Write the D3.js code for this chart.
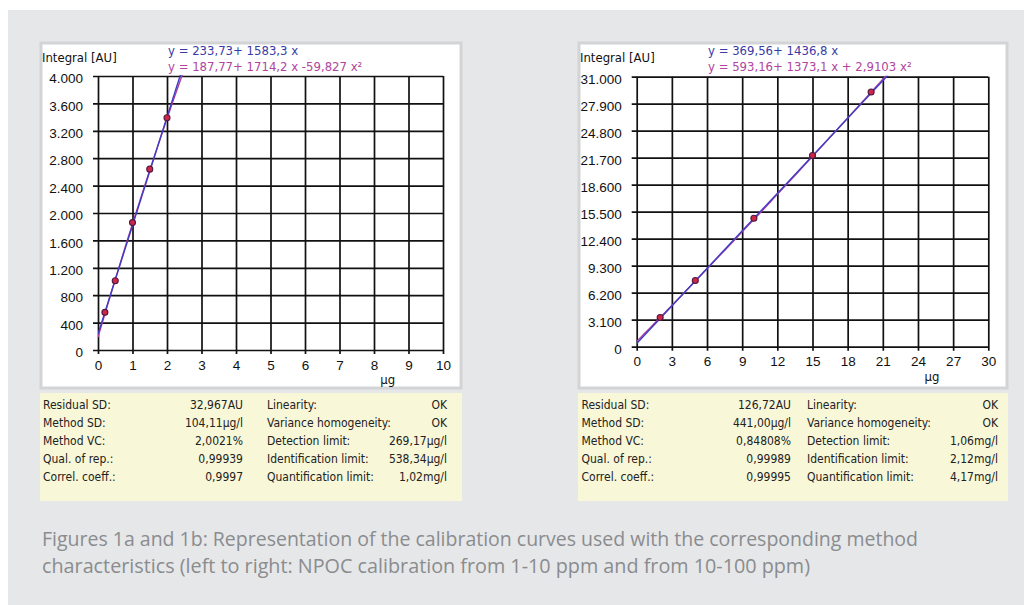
<!DOCTYPE html>
<html>
<head>
<meta charset="utf-8">
<script src="https://cdn.jsdelivr.net/npm/d3@7"></script>
<style>
    body { margin: 0; background: #fff; }
    svg { display: block; }
    .chartText { font-family: "DejaVu Sans Condensed", "Noto Sans", sans-serif; }
</style>
</head>
<body>
<svg id="page" width="1024" height="605"></svg>
<script>
// left chart (1-10 ppm)
leftAmounts = [0.2, 0.5, 1, 1.5, 2]
leftIntegrals = [550, 1010, 1860, 2640, 3390]
leftLinearCoef = [233.73, 1583.3]
leftQuadCoef = [187.77, 1714.2, -59.827]
leftXTicks = [0, 1, 2, 3, 4, 5, 6, 7, 8, 9, 10]
leftYTicks = [0, 400, 800, 1200, 1600, 2000, 2400, 2800, 3200, 3600, 4000]
leftEquations = ["y = 233,73+ 1583,3 x", "y = 187,77+ 1714,2 x -59,827 x²"]
leftStatNames = ["Residual SD:", "Method SD:", "Method VC:", "Qual. of rep.:", "Correl. coeff.:"]
leftStatValues = ["32,967AU", "104,11µg/l", "2,0021%", "0,99939", "0,9997"]
leftCheckNames = ["Linearity:", "Variance homogeneity:", "Detection limit:", "Identification limit:", "Quantification limit:"]
leftCheckValues = ["OK", "OK", "269,17µg/l", "538,34µg/l", "1,02mg/l"]

// right chart (10-100 ppm)
rightAmounts = [2, 5, 10, 15, 20]
rightIntegrals = [3350, 7600, 14750, 21950, 29250]
rightLinearCoef = [369.56, 1436.8]
rightQuadCoef = [593.16, 1373.1, 2.9103]
rightXTicks = [0, 3, 6, 9, 12, 15, 18, 21, 24, 27, 30]
rightYTicks = [0, 3100, 6200, 9300, 12400, 15500, 18600, 21700, 24800, 27900, 31000]
rightEquations = ["y = 369,56+ 1436,8 x", "y = 593,16+ 1373,1 x + 2,9103 x²"]
rightStatNames = ["Residual SD:", "Method SD:", "Method VC:", "Qual. of rep.:", "Correl. coeff.:"]
rightStatValues = ["126,72AU", "441,00µg/l", "0,84808%", "0,99989", "0,99995"]
rightCheckNames = ["Linearity:", "Variance homogeneity:", "Detection limit:", "Identification limit:", "Quantification limit:"]
rightCheckValues = ["OK", "OK", "1,06mg/l", "2,12mg/l", "4,17mg/l"]

captionLines = [
    "Figures 1a and 1b: Representation of the calibration curves used with the corresponding method",
    "characteristics (left to right: NPOC calibration from 1-10 ppm and from 10-100 ppm)"
]

const germanFormat = d3.formatLocale({ decimal: ",", thousands: ".", grouping: [3], currency: ["", ""] }).format(",d")

const svg = d3.select("#page")

// grey page panel
svg.append("rect")
    .attr("x", 8).attr("y", 10)
    .attr("width", 1016).attr("height", 595)
    .attr("fill", "#e6e7e8")

function draw_panel(cfg, idx) {
    // white chart box
    svg.append("rect")
        .attr("x", cfg.boxX).attr("y", 43)
        .attr("width", cfg.boxW).attr("height", 345)
        .attr("fill", "#fff")
        .attr("stroke", "#d3d4d6")
        .attr("stroke-width", 3)

    const xScale = d3.scaleLinear().domain([cfg.xTicks[0], cfg.xTicks[cfg.xTicks.length - 1]]).range([cfg.x0, cfg.x1])
    const yScale = d3.scaleLinear().domain([cfg.yTicks[0], cfg.yTicks[cfg.yTicks.length - 1]]).range([cfg.yBot, cfg.yTop])
    const plotW = cfg.x1 - cfg.x0
    const plotH = cfg.yBot - cfg.yTop

    const g = svg.append("g").attr("class", "chartText")

    // grid + ticks, x
    const xAxis = g.append("g")
        .attr("transform", "translate(0," + cfg.yBot + ")")
        .call(d3.axisBottom(xScale).tickValues(cfg.xTicks).tickSize(-plotH).tickSizeOuter(0).tickPadding(10).tickFormat(d3.format("d")))
    xAxis.select(".domain").remove()
    xAxis.selectAll("line").attr("y1", 4).attr("stroke", "#111").attr("stroke-width", 1.7)
    xAxis.selectAll("text").attr("font-size", 13.5).attr("fill", "#111").attr("font-family", null)

    // grid + ticks, y
    const yAxis = g.append("g")
        .attr("transform", "translate(" + cfg.x0 + ",0)")
        .call(d3.axisLeft(yScale).tickValues(cfg.yTicks).tickSize(-plotW).tickSizeOuter(0).tickPadding(15).tickFormat(germanFormat))
    yAxis.select(".domain").remove()
    yAxis.selectAll("line").attr("x1", -5).attr("stroke", "#111").attr("stroke-width", 1.7)
    yAxis.selectAll("text").attr("font-size", 13.5).attr("fill", "#111").attr("dy", "0.5em").attr("font-family", null)

    // axis titles
    g.append("text")
        .attr("x", cfg.boxX + 1).attr("y", 62)
        .attr("font-size", 13).attr("fill", "#111")
        .text("Integral [AU]")
    g.append("text")
        .attr("x", xScale(cfg.xTicks[0] + 0.84 * (cfg.xTicks[cfg.xTicks.length - 1] - cfg.xTicks[0])))
        .attr("y", cfg.yBot + 34)
        .attr("text-anchor", "middle")
        .attr("font-size", 13).attr("fill", "#111")
        .text("µg")

    // regression equations
    g.selectAll(".equation")
        .data(cfg.equations)
        .join("text")
        .attr("class", "equation")
        .attr("x", cfg.eqX)
        .attr("y", (d, i) => 55 + i * 15.5)
        .attr("font-size", 13)
        .attr("fill", (d, i) => i == 0 ? "#3a3aa6" : "#b0449e")
        .text(d => d)

    // fitted curves, clipped to the plot
    svg.append("clipPath").attr("id", "plotClip" + idx)
        .append("rect")
        .attr("x", cfg.x0).attr("y", cfg.yTop - 1)
        .attr("width", plotW).attr("height", plotH + 1)
    const curves = svg.append("g").attr("clip-path", "url(#plotClip" + idx + ")")

    const xDomain = xScale.domain()
    const fitXs = d3.range(xDomain[0], xDomain[1] + 1e-9, (xDomain[1] - xDomain[0]) / 100)
    const lineGen = d3.line().x(d => xScale(d[0])).y(d => yScale(d[1]))

    curves.append("path")
        .attr("d", lineGen(fitXs.map(x => [x, cfg.quad[0] + cfg.quad[1] * x + cfg.quad[2] * x * x])))
        .attr("fill", "none")
        .attr("stroke", "#b03c9c")
        .attr("stroke-width", 1.4)
    curves.append("path")
        .attr("d", lineGen(xDomain.map(x => [x, cfg.linear[0] + cfg.linear[1] * x])))
        .attr("fill", "none")
        .attr("stroke", "#3d3dc4")
        .attr("stroke-width", 1.4)

    // measured points
    svg.append("g").selectAll("circle")
        .data(cfg.amounts.map((a, i) => [a, cfg.integrals[i]]))
        .join("circle")
        .attr("cx", d => xScale(d[0]))
        .attr("cy", d => yScale(d[1]))
        .attr("r", 3)
        .attr("fill", "#d02448")
        .attr("stroke", "#4f1a40")
        .attr("stroke-width", 1.1)

    // method characteristics table
    svg.append("rect")
        .attr("x", cfg.boxX - 1).attr("y", 393)
        .attr("width", cfg.boxW + 2).attr("height", 108)
        .attr("fill", "#f8f7d8")

    const table = svg.append("g").attr("class", "chartText").attr("font-size", 12).attr("fill", "#222")
    const rowY = i => 409 + i * 18
    table.selectAll(".statName").data(cfg.statNames).join("text")
        .attr("class", "statName").attr("x", cfg.col[0]).attr("y", (d, i) => rowY(i)).text(d => d)
    table.selectAll(".statValue").data(cfg.statValues).join("text")
        .attr("class", "statValue").attr("x", cfg.col[1]).attr("y", (d, i) => rowY(i))
        .attr("text-anchor", "end").text(d => d)
    table.selectAll(".checkName").data(cfg.checkNames).join("text")
        .attr("class", "checkName").attr("x", cfg.col[2]).attr("y", (d, i) => rowY(i)).text(d => d)
    table.selectAll(".checkValue").data(cfg.checkValues).join("text")
        .attr("class", "checkValue").attr("x", cfg.col[3]).attr("y", (d, i) => rowY(i))
        .attr("text-anchor", "end").text(d => d)
}

draw_panel({
    boxX: 41, boxW: 420,
    x0: 98, x1: 443, yTop: 76, yBot: 350,
    xTicks: leftXTicks, yTicks: leftYTicks,
    amounts: leftAmounts, integrals: leftIntegrals,
    linear: leftLinearCoef, quad: leftQuadCoef,
    equations: leftEquations, eqX: 168,
    statNames: leftStatNames, statValues: leftStatValues,
    checkNames: leftCheckNames, checkValues: leftCheckValues,
    col: [43, 243, 267, 447]
}, 0)

draw_panel({
    boxX: 579, boxW: 428,
    x0: 636.7, x1: 988.3, yTop: 76.7, yBot: 346.7,
    xTicks: rightXTicks, yTicks: rightYTicks,
    amounts: rightAmounts, integrals: rightIntegrals,
    linear: rightLinearCoef, quad: rightQuadCoef,
    equations: rightEquations, eqX: 708,
    statNames: rightStatNames, statValues: rightStatValues,
    checkNames: rightCheckNames, checkValues: rightCheckValues,
    col: [581.5, 791, 807, 998]
}, 1)

// caption
const captionLengths = [876, 768]
svg.append("g").selectAll("text")
    .data(captionLines)
    .join("text")
    .attr("x", 42)
    .attr("y", (d, i) => 546 + i * 27)
    .attr("font-family", "'Liberation Sans Narrow', 'Open Sans', sans-serif")
    .attr("font-size", 20)
    .attr("fill", "#8a8c8f")
    .attr("textLength", (d, i) => captionLengths[i])
    .attr("lengthAdjust", "spacingAndGlyphs")
    .text(d => d)
</script>
</body>
</html>
